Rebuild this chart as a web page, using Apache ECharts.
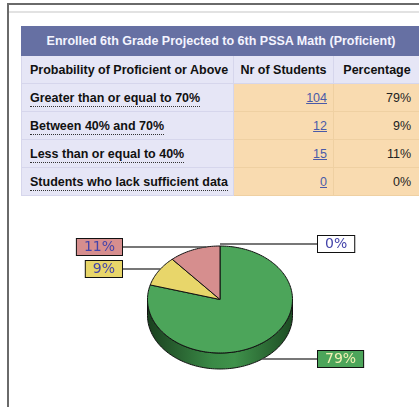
<!DOCTYPE html>
<html>
<head>
<meta charset="utf-8">
<title>Enrolled 6th Grade Projected to 6th PSSA Math</title>
<script src="https://cdn.jsdelivr.net/npm/echarts@6.0.0/dist/echarts.min.js"></script>
<style>
  html, body { margin: 0; padding: 0; background: #fff; width: 419px; height: 407px; overflow: hidden; }
  #frame { position: absolute; left: 7px; top: 3px; width: 420px; height: 410px; border-left: 2px solid #6a6a6a; border-top: 2px solid #6a6a6a; }
  #rule { position: absolute; left: 9px; top: 11px; width: 410px; height: 2px; background: #e2e2e2; }
  #tbl { position: absolute; left: 21px; top: 26px; width: 399px; border-collapse: collapse; table-layout: fixed;
         font-family: 'Liberation Sans', Arial, sans-serif; font-size: 12.5px; color: #111; }
  #tbl td, #tbl th { border: 1px solid #d6d6ec; padding: 0; white-space: nowrap; }
  #tbl .title { background: #6670a3; color: #f4f4ff; height: 28px; text-align: center; font-weight: bold; border-color: #6670a3; }
  #tbl .head { background: #e6e6f6; font-weight: bold; height: 27px; text-align: center; }
  #tbl .head.first { text-align: left; padding-left: 8px; }
  #tbl .lab { background: #e6e6f6; font-weight: bold; padding-left: 8px; height: 27px; }
  #tbl .lab span { border-bottom: 1px dotted #333; padding-bottom: 1px; }
  #tbl .num { background: #f9dbb0; border-color: #efd0a2; text-align: right; padding-right: 6px; }
  #tbl .num a { color: #4a5aa8; text-decoration: underline; }
  #tbl .pct { background: #f9dbb0; border-color: #efd0a2; text-align: right; padding-right: 9px; color: #222; }
  #chart { position: absolute; left: 0; top: 200px; width: 419px; height: 207px; }
</style>
</head>
<body>
<div id="frame"></div>
<div id="rule"></div>
<table id="tbl"></table>
<div id="chart"></div>
<script>
// data
const tableTitle = 'Enrolled 6th Grade Projected to 6th PSSA Math (Proficient)'
const headers = ['Probability of Proficient or Above', 'Nr of Students', 'Percentage']
const categories = ['Greater than or equal to 70%', 'Between 40% and 70%', 'Less than or equal to 40%', 'Students who lack sufficient data']
const students = [104, 12, 15, 0]
const percentages = ['79%', '9%', '11%', '0%']

// styles
const sliceColors = ['#4ca55a', '#e8d66a', '#d68e8e', '#ffffff']
const labelTextColors = ['#f2f0b4', '#4444aa', '#4444aa', '#4444aa']
// label placement: side of the pie and y of the label line (chart px)
const labelSide = ['right', 'left', 'left', 'right']
const labelY = [159, 69, 47, 44]

// ---- table ----
let html = '<colgroup><col style="width:212px"><col style="width:100px"><col style="width:87px"></colgroup>'
html += '<tr><th class="title" colspan="3">' + tableTitle + '</th></tr>'
html += '<tr><td class="head first">' + headers[0] + '</td><td class="head">' + headers[1] + '</td><td class="head">' + headers[2] + '</td></tr>'
categories.forEach((c, i) => {
  html += '<tr><td class="lab"><span>' + c + '</span></td>' +
    '<td class="num"><a href="#">' + students[i] + '</a></td>' +
    '<td class="pct">' + percentages[i] + '</td></tr>'
})
document.getElementById('tbl').innerHTML = html

// ---- 3d pie ----
const cx = 220
const cy = 99.5
const rx = 72.5
const ry = 53.5
const depth = 16
const total = students.reduce((a, b) => a + b, 0)

function angles (i) {
  let before = 0
  for (let k = 0; k < i; k++) before += students[k]
  const a0 = -Math.PI / 2 + before / total * Math.PI * 2
  const a1 = a0 + students[i] / total * Math.PI * 2
  return [a0, a1]
}

function arc (a0, a1, oy) {
  const pts = []
  const n = Math.max(2, Math.ceil(Math.abs(a1 - a0) / 0.03))
  for (let k = 0; k <= n; k++) {
    const t = a0 + (a1 - a0) * k / n
    pts.push([cx + rx * Math.cos(t), cy + oy + ry * Math.sin(t)])
  }
  return pts
}

const sideFill = {
  type: 'linear', x: cx - rx, y: 0, x2: cx + rx, y2: 0, global: true,
  colorStops: [
    { offset: 0, color: '#1a401f' },
    { offset: 0.45, color: '#3a8a46' },
    { offset: 0.6, color: '#3f924b' },
    { offset: 1, color: '#1d4c23' }
  ]
}

function renderSide (params, api) {
  const i = params.dataIndex
  if (!api.value(0)) return
  const [a0, a1] = angles(i)
  // visible front part lies between 0 and PI (lower half), check both turns
  const children = []
  ;[0, Math.PI * 2].forEach(shift => {
    const s = Math.max(a0, shift)
    const e = Math.min(a1, shift + Math.PI)
    if (e > s) {
      const top = arc(s, e, 0)
      const bottom = arc(e, s, depth)
      children.push({
        type: 'polygon',
        shape: { points: top.concat(bottom) },
        style: { fill: i === 0 ? sideFill : sliceColors[i], stroke: '#111', lineWidth: 1 }
      })
    }
  })
  return { type: 'group', children }
}

function edgeX (y, side) {
  // horizontal hit with the top ellipse, else with the bottom one
  let dy = y - cy
  if (Math.abs(dy) > ry) dy = y - cy - depth
  if (Math.abs(dy) > ry) return cx
  const dx = rx * Math.sqrt(1 - (dy / ry) * (dy / ry))
  return side === 'left' ? cx - dx : cx + dx
}

function renderTop (params, api) {
  const i = params.dataIndex
  const [a0, a1] = angles(i)
  const children = []
  if (api.value(0)) {
    children.push({
      type: 'polygon',
      shape: { points: [[cx, cy]].concat(arc(a0, a1, 0)) },
      style: { fill: sliceColors[i], stroke: '#111', lineWidth: 1 }
    })
  }
  const y = labelY[i]
  const side = labelSide[i]
  const boxX = side === 'left' ? 122 : 318
  children.push({
    type: 'line',
    shape: { x1: side === 'left' ? boxX : edgeX(y, side), y1: y, x2: side === 'left' ? edgeX(y, side) : boxX, y2: y },
    style: { stroke: '#4a4a4a', lineWidth: 1.6 },
    z2: 5
  })
  const txt = Math.round(api.value(0) / total * 100) + '%'
  const base = {
    text: txt,
    align: side === 'left' ? 'right' : 'left',
    verticalAlign: 'middle',
    font: '14px "DejaVu Sans"',
    padding: [1, 7, 1, 7]
  }
  children.push({
    type: 'text',
    x: boxX + 1,
    y: y + 1,
    style: Object.assign({}, base, { fill: '#bbb', backgroundColor: '#bbb' }),
    z2: 6
  })
  children.push({
    type: 'text',
    x: boxX,
    y: y,
    style: Object.assign({}, base, {
      fill: labelTextColors[i],
      backgroundColor: sliceColors[i],
      borderColor: '#111',
      borderWidth: 1
    }),
    z2: 7
  })
  return { type: 'group', children }
}

const chart = echarts.init(document.getElementById('chart'))
chart.setOption({
  animation: false,
  series: [
    { type: 'custom', name: 'side', coordinateSystem: 'none', data: students, renderItem: renderSide, z: 1, silent: true },
    { type: 'custom', name: 'top', coordinateSystem: 'none', data: students, renderItem: renderTop, z: 2, silent: true }
  ]
})
</script>
</body>
</html>
